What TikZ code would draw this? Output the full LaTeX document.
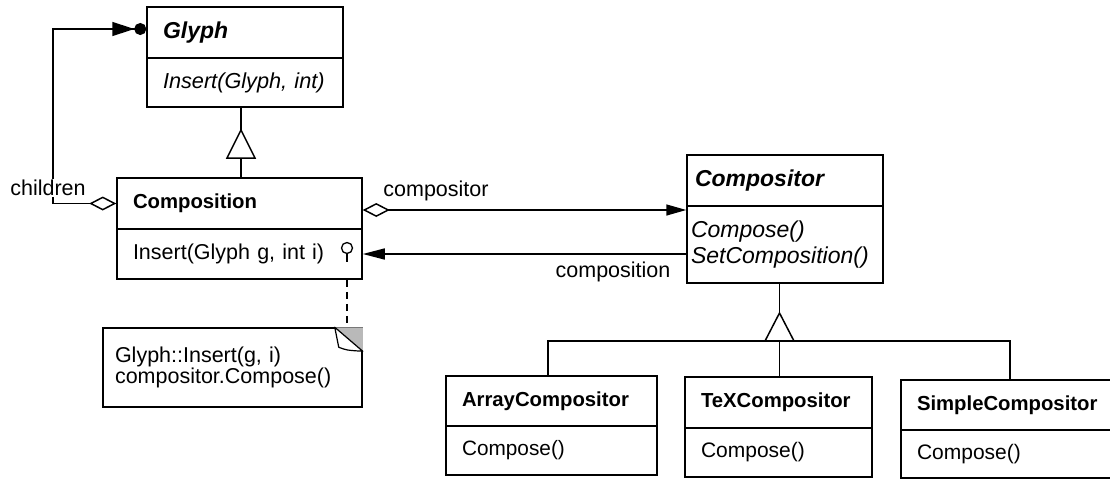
\documentclass[tikz,border=0pt]{standalone}
\usepackage{fontspec}
\setmainfont{Liberation Sans}
\usetikzlibrary{arrows.meta}
\begin{document}
\begin{tikzpicture}[x=1pt,y=-1pt,
  font=\fontsize{21.5}{25}\selectfont,
  line width=1.5pt,
  cls/.style={draw, inner xsep=16pt, inner ysep=0pt, align=left, anchor=center},
  bname/.style={font=\fontsize{20.3}{24}\selectfont\bfseries},
  biname/.style={font=\fontsize{23}{27}\selectfont\bfseries\itshape},
  lbl/.style={inner sep=1pt}
]
\useasboundingbox (0,0) rectangle (1110,479);

% Glyph
\node[cls, biname, text width=164pt, minimum height=51pt] (glyph) at (245,32.5) {Glyph};
\node[cls, text width=164pt, minimum height=49pt, font=\fontsize{21.7}{25}\selectfont\itshape] (glyphops) at (245,82.5) {Insert(Glyph, int)};

% Composition
\node[cls, bname, text width=213pt, minimum height=51pt] (comp) at (239.5,203.5) {Composition};
\node[cls, text width=213pt, minimum height=50pt] (compops) at (239.5,254) {Insert(Glyph g, int i)};

% Compositor
\node[cls, biname, inner xsep=8pt, text width=180pt, minimum height=51pt] (cpr) at (785,180.5) {Compositor};
\node[cls, inner xsep=4pt, text width=188pt, minimum height=77pt, font=\fontsize{23}{26}\selectfont\itshape] (cprops) at (785,244.5) {Compose()\\SetComposition()};

% Subclasses
\node[cls, bname, text width=179pt, minimum height=50pt] (arr) at (551.5,401) {ArrayCompositor};
\node[cls, text width=179pt, minimum height=49pt, font=\fontsize{20.8}{24}\selectfont] (arrops) at (551.5,450.5) {Compose()};
\node[cls, bname, text width=155pt, minimum height=51pt] (tex) at (778.5,402.5) {TeXCompositor};
\node[cls, text width=155pt, minimum height=49pt, font=\fontsize{21}{24}\selectfont] (texops) at (778.5,452.5) {Compose()};
\node[cls, bname, text width=179pt, minimum height=50pt] (sim) at (1006.5,405) {SimpleCompositor};
\node[cls, text width=179pt, minimum height=48pt, font=\fontsize{21}{24}\selectfont] (simops) at (1006.5,454) {Compose()};

% Inheritance Glyph <- Composition
\coordinate (t1) at (241,130);
\draw (glyphops.south -| t1) -- (t1);
\draw[line join=miter] (t1) -- ++(-14,28) -- ++(28,0) -- cycle;
\draw ([yshift=-28pt]t1) -- (comp.north -| t1);

% Inheritance Compositor <- subclasses
\coordinate (t2) at (779.5,313);
\coordinate (bar) at (779.5,341);
\draw (cprops.south -| t2) -- (t2);
\draw (t2) -- ++(-14.5,28) -- ++(29,0) -- cycle;
\draw (arr.north -| 548,0) |- (bar) -| (sim.north -| 1010,0);
\draw (bar) -- (tex.north -| bar);

% children
\coordinate (chx) at (53,29);
\draw[{Diamond[open,length=27pt,width=14pt]}-{Triangle[length=22pt,width=14pt]Circle[length=12pt]}]
  (comp.west) -| (chx) -- (glyph.west |- chx);
\node[lbl, fill=white] (lchildren) at (48,188) {children};

% compositor
\draw[{Diamond[open,length=27pt,width=14pt]}-{Triangle[length=20pt,width=11pt]}]
  (comp.east |- 0,210) -- (cpr.west |- 0,210);
\node[lbl] (lcompositor) at (436,191) {compositor};

% composition
\draw[-{Triangle[length=22pt,width=11pt]}] (cprops.west |- 0,254) -- (compops.east |- 0,254);
\node[lbl] (lcomposition) at (613,272) {composition};

% lollipop + note
\node[circle, draw, line width=1.3pt, minimum size=11pt, inner sep=0pt, fill=white] (lol) at (347,248) {};
\draw[line width=1.3pt] (lol.south) -- ++(0,8);

\node[draw, minimum width=259pt, minimum height=79pt, inner xsep=12pt, inner ysep=0pt,
      text width=235pt, align=left, font=\fontsize{21.5}{19}\selectfont] (note) at (232.5,367.5)
  {Glyph::Insert(g, i)\\compositor.Compose()};
\fill[gray!55] ([xshift=-28pt]note.north east) -- (note.north east) -- ([yshift=-24pt]note.north east) -- cycle;
\draw[fill=white, line width=1.2pt, line join=round] ([xshift=-28pt]note.north east) .. controls ++(2,10) .. ([xshift=-24pt,yshift=-20pt]note.north east) .. controls ++(8,3) .. ([yshift=-24pt]note.north east) -- cycle;
\draw[dash pattern=on 7pt off 5pt] (compops.south -| lol) -- (note.north -| lol);
\end{tikzpicture}
\end{document}
